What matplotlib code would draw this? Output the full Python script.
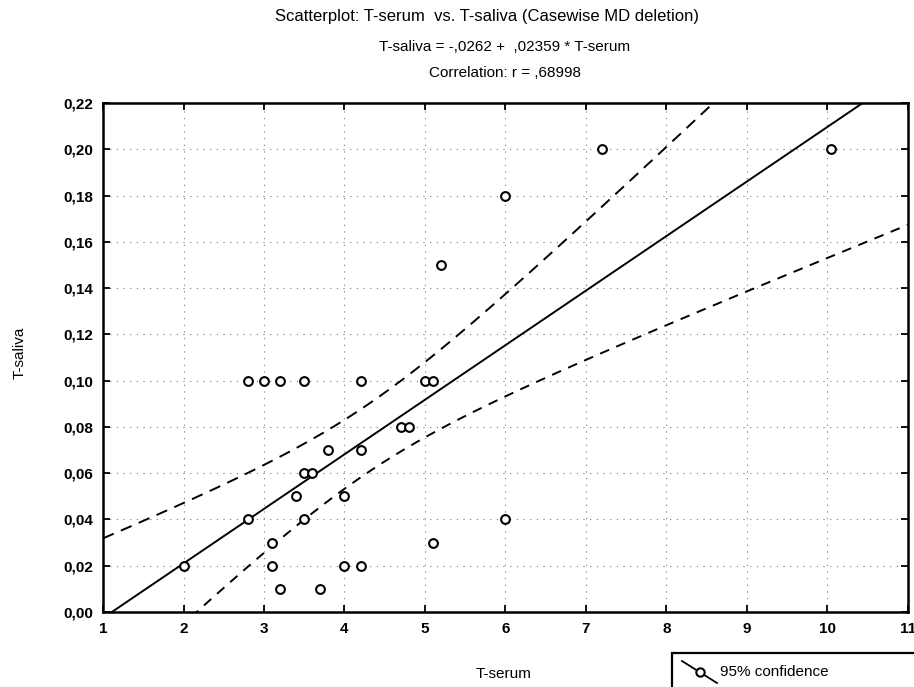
import numpy as np
import matplotlib
matplotlib.use("Agg")
import matplotlib.pyplot as plt
from matplotlib.lines import Line2D
from matplotlib.patches import Rectangle
from matplotlib.ticker import FuncFormatter

plt.rcParams['font.family'] = ['Liberation Sans', 'DejaVu Sans']

# Data
t_serum = [2.8, 3.0, 3.2, 3.5, 4.2, 5.0, 5.1,
           4.7, 4.8,
           3.8, 4.2,
           3.5, 3.6,
           3.4, 4.0,
           2.8, 3.5, 6.0,
           3.1, 5.1,
           2.0, 3.1, 4.0, 4.2,
           3.2, 3.7,
           7.2, 10.05,
           6.0,
           5.2]
t_saliva = [0.10, 0.10, 0.10, 0.10, 0.10, 0.10, 0.10,
            0.08, 0.08,
            0.07, 0.07,
            0.06, 0.06,
            0.05, 0.05,
            0.04, 0.04, 0.04,
            0.03, 0.03,
            0.02, 0.02, 0.02, 0.02,
            0.01, 0.01,
            0.20, 0.20,
            0.18,
            0.15]
intercept = -0.0262
slope = 0.02359
r_value = ",68998"

x_ticks = [1, 2, 3, 4, 5, 6, 7, 8, 9, 10, 11]
y_ticks = [0.00, 0.02, 0.04, 0.06, 0.08, 0.10, 0.12, 0.14, 0.16, 0.18, 0.20, 0.22]

x = np.array(t_serum)
y = np.array(t_saliva)
n = len(x)
xbar = x.mean()
sxx = np.sum((x - xbar) ** 2)
resid = y - (intercept + slope * x)
s = np.sqrt(np.sum(resid ** 2) / (n - 2))
tcrit = 2.048  # t(0.975, 28)

xs = np.linspace(1, 11, 400)
yfit = intercept + slope * xs
half = tcrit * s * np.sqrt(1.0 / n + (xs - xbar) ** 2 / sxx)

fig = plt.figure(figsize=(9.14, 6.87), dpi=100)
ax = fig.add_axes([0.1127, 0.1092, 0.8807, 0.7408])

ax.grid(True, linestyle=(0, (1, 5)), color='#777777', linewidth=0.8)
ax.set_axisbelow(True)

ax.plot(xs, yfit, color='black', linewidth=1.4, zorder=3)
ax.plot(xs, yfit + half, color='black', linewidth=1.4, linestyle=(0, (6, 4)), zorder=3)
ax.plot(xs, yfit - half, color='black', linewidth=1.4, linestyle=(0, (5, 4)), zorder=3)
ax.plot(x, y, linestyle='none', marker='o', markersize=6.3, markerfacecolor='white',
        markeredgecolor='black', markeredgewidth=1.5, zorder=4)

ax.set_xlim(1, 11)
ax.set_ylim(0, 0.22)
ax.set_xticks(x_ticks)
ax.set_yticks(y_ticks)
ax.yaxis.set_major_formatter(FuncFormatter(lambda v, p: f"{v:.2f}".replace('.', ',')))
ax.tick_params(direction='in', length=5, width=1.3, top=True, right=True,
               labelsize=11, pad=7)
for lab in ax.get_xticklabels() + ax.get_yticklabels():
    lab.set_fontweight('bold')
for sp in ax.spines.values():
    sp.set_linewidth(1.8)

ax.set_xlabel("T-serum", fontsize=11)
ax.set_ylabel("T-saliva", fontsize=11)
ax.xaxis.set_label_coords(0.4975, -0.108)
ax.yaxis.set_label_coords(-0.095, 0.51)

fig.text(0.533, 0.976, "Scatterplot: T-serum  vs. T-saliva (Casewise MD deletion)",
         ha='center', va='center', fontsize=12)
fig.text(0.5525, 0.932, f"T-saliva = {intercept:.4f}".replace('0.', ',') +
         f" +  {slope:.5f}".replace('0.', ',') + " * T-serum",
         ha='center', va='center', fontsize=11)
fig.text(0.5525, 0.894, f"Correlation: r = {r_value}",
         ha='center', va='center', fontsize=11)

# Legend box (bottom right, partly cut off)
fig.patches.append(Rectangle((672 / 914, -0.02), 0.3, 1 - 653 / 687 + 0.02,
                             transform=fig.transFigure, facecolor='white',
                             edgecolor='black', linewidth=1.6))
fig.lines.append(Line2D([682 / 914, 717 / 914], [1 - 661 / 687, 1 - 683 / 687],
                        transform=fig.transFigure, color='black', linewidth=1.3))
fig.lines.append(Line2D([700 / 914], [1 - 672 / 687], transform=fig.transFigure,
                        marker='o', markersize=6, markerfacecolor='white',
                        markeredgecolor='black', markeredgewidth=1.5))
fig.text(720 / 914, 1 - 672 / 687, "95% confidence", ha='left', va='center', fontsize=11)

fig.savefig("out.png", dpi=100)
